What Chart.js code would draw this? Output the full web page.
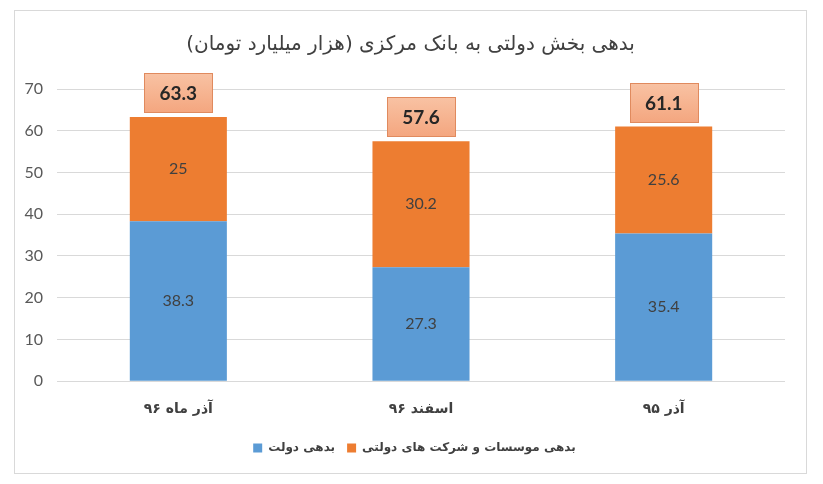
<!DOCTYPE html>
<html>
<head>
<meta charset="utf-8">
<script src="https://cdn.jsdelivr.net/npm/chart.js@4"></script>
<style>
  body { margin: 0; background: #fff; }
  #wrap { width: 823px; height: 484px; position: relative; }
  canvas { direction: rtl; }
</style>
</head>
<body>
<div id="wrap"><canvas id="debtChart" width="823" height="484"></canvas></div>
<script>
const categories = ['آذر ماه ۹۶', 'اسفند ۹۶', 'آذر ۹۵'];
const govDebt = [38.3, 27.3, 35.4];
const companyDebt = [25, 30.2, 25.6];
const totals = [63.3, 57.6, 61.1];
const yTicks = [0, 10, 20, 30, 40, 50, 60, 70];

const latin = "Lato, 'DejaVu Sans', sans-serif";
const farsi = "'DejaVu Sans', sans-serif";

// frame, value labels and total boxes
const labelsPlugin = {
  id: 'labels',
  afterLayout(chart) {
    // center title and legend on the whole frame, not on the padded box
    chart.titleBlock.left += 18;
    chart.titleBlock.right += 18;
    chart.legend.left += 22;
    chart.legend.right += 22;
  },
  beforeDraw(chart) {
    const c = chart.ctx;
    c.save();
    c.strokeStyle = '#D9D9D9';
    c.lineWidth = 1;
    c.strokeRect(14.5, 10.5, 792, 463);
    c.restore();
  },
  afterDatasetsDraw(chart) {
    const c = chart.ctx;
    c.save();
    c.textAlign = 'center';
    c.textBaseline = 'middle';
    c.font = '16px ' + latin;
    c.fillStyle = '#404040';
    chart.data.datasets.forEach((ds, i) => {
      chart.getDatasetMeta(i).data.forEach((bar, j) => {
        const mid = (bar.y + bar.base) / 2;
        c.fillText(String(ds.data[j]), bar.x, mid);
      });
    });
    const y = chart.scales.y;
    totals.forEach((t, j) => {
      const bar = chart.getDatasetMeta(1).data[j];
      const top = y.getPixelForValue(govDebt[j] + companyDebt[j]);
      const w = 68, h = 39;
      const bx = Math.round(bar.x - w / 2) + 0.5;
      const by = Math.round(top - 5 - h) + 0.5;
      const g = c.createLinearGradient(0, by, 0, by + h);
      g.addColorStop(0, '#F8C2A3');
      g.addColorStop(1, '#F4A67F');
      c.fillStyle = g;
      c.fillRect(bx, by, w, h);
      c.strokeStyle = '#E08A5E';
      c.lineWidth = 1;
      c.strokeRect(bx, by, w, h);
      c.fillStyle = '#262626';
      c.font = 'bold 19px ' + latin;
      c.fillText(t.toFixed(1), bar.x, by + h / 2 + 1);
    });
    c.restore();
  }
};

new Chart(document.getElementById('debtChart').getContext('2d'), {
  type: 'bar',
  data: {
    labels: categories,
    datasets: [
      { label: 'بدهی دولت', data: govDebt, backgroundColor: '#5B9BD5' },
      { label: 'بدهی موسسات و شرکت های دولتی', data: companyDebt, backgroundColor: '#ED7D31' }
    ]
  },
  options: {
    responsive: false,
    animation: false,
    layout: { padding: { left: 0, right: 38, top: 22, bottom: 20 } },
    datasets: { bar: { categoryPercentage: 1, barPercentage: 0.4 } },
    plugins: {
      title: {
        display: true,
        text: 'بدهی بخش دولتی به بانک مرکزی (هزار میلیارد تومان)',
        color: '#404040',
        font: { family: farsi, size: 20, weight: 'normal' },
        padding: { top: 11, bottom: 32 }
      },
      legend: {
        position: 'bottom',
        labels: {
          boxWidth: 9, boxHeight: 9, padding: 12,
          color: '#404040',
          font: { family: farsi, size: 12, weight: 'bold' }
        }
      },
      tooltip: { enabled: false }
    },
    scales: {
      x: {
        stacked: true,
        grid: { display: false },
        border: { display: false },
        ticks: {
          color: '#404040', padding: 12,
          font: { family: farsi, size: 14, weight: 'bold' }
        }
      },
      y: {
        stacked: true,
        min: 0, max: 70,
        afterFit(scale) { scale.width = 57; },
        afterBuildTicks(scale) { scale.ticks = yTicks.map(v => ({ value: v })); },
        grid: { color: '#D9D9D9', drawTicks: false },
        border: { display: false },
        ticks: {
          color: '#595959', padding: 14,
          font: { family: latin, size: 16 }
        }
      }
    }
  },
  plugins: [labelsPlugin]
});
</script>
</body>
</html>
